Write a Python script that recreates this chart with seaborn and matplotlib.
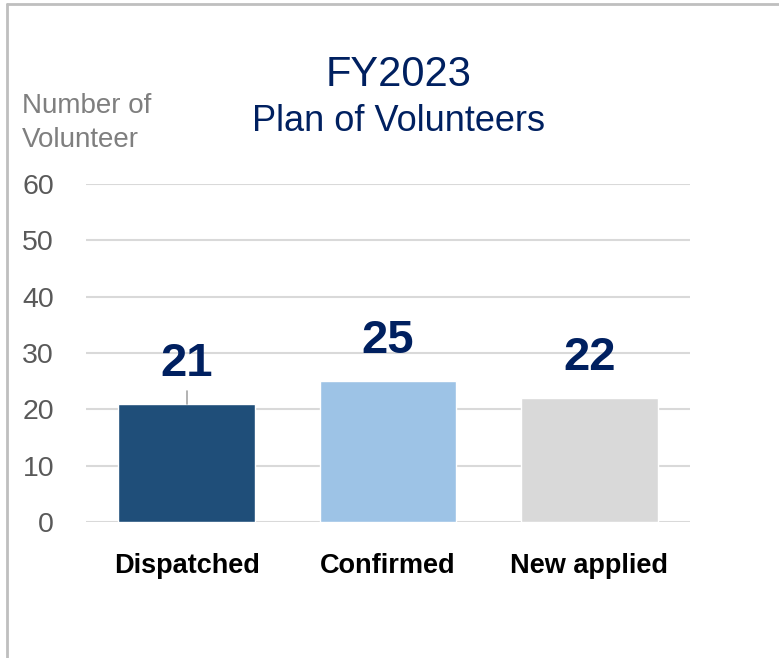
import matplotlib
matplotlib.use("Agg")
import matplotlib.pyplot as plt
import seaborn as sns
import pandas as pd
from matplotlib.lines import Line2D

categories = ["Dispatched", "Confirmed", "New applied"]
values = [21, 25, 22]
bar_colors = ["#1F4E79", "#9DC3E6", "#D9D9D9"]
yticks = [0, 10, 20, 30, 40, 50, 60]
title_line1 = "FY2023"
title_line2 = "Plan of Volunteers"
ylabel_text = "Number of\nVolunteer"

sns.set_theme(style="white")
plt.rcParams['font.family'] = ['Liberation Sans', 'DejaVu Sans']

df = pd.DataFrame({"category": categories, "value": values})

fig = plt.figure(figsize=(7.79, 6.58), dpi=100)
ax = fig.add_axes([0.1104, 0.2067, 0.7754, 0.5137])

sns.barplot(data=df, x="category", y="value", hue="category",
            palette=bar_colors, width=0.68, legend=False, ax=ax,
            saturation=1, zorder=3)

ax.set_ylim(0, 60)
ax.set_xlim(-0.5, 2.5)
ax.set_yticks(yticks)
ax.yaxis.grid(True, color="#D9D9D9", linewidth=1.5, zorder=0)
ax.set_axisbelow(True)
for s in ax.spines.values():
    s.set_visible(False)
ax.tick_params(axis="y", length=0, pad=23, labelsize=20.5, labelcolor="#595959")
ax.tick_params(axis="x", length=0, pad=22)
ax.set_xlabel("")
ax.set_ylabel("")
for lbl in ax.get_xticklabels():
    lbl.set_fontfamily(["Liberation Sans Narrow", "Liberation Sans", "DejaVu Sans"])
    lbl.set_fontweight("bold")
    lbl.set_fontsize(19.5)
    lbl.set_color("#000000")

for i, v in enumerate(values):
    ax.annotate(str(v), xy=(i, v), xytext=(0, 13), textcoords="offset points",
                ha="center", va="bottom", fontsize=34, fontweight="bold",
                color="#002060")

# leader line for first label
ax.plot([0, 0], [values[0], values[0] + 2.3], color="#A6A6A6", linewidth=1.2, zorder=4)

fig.text(0.511, 0.886, title_line1, ha="center", va="center", fontsize=30, color="#002060")
fig.text(0.511, 0.815, title_line2, ha="center", va="center", fontsize=26, color="#002060")
fig.text(0.028, 0.813, ylabel_text, ha="left", va="center", fontsize=20,
         color="#7F7F7F", linespacing=1.4)

# figure frame (top and left edges)
fig.add_artist(Line2D([0.009, 1.0], [0.994, 0.994], transform=fig.transFigure,
                      color="#BFBFBF", linewidth=2))
fig.add_artist(Line2D([0.009, 0.009], [0.0, 0.994], transform=fig.transFigure,
                      color="#BFBFBF", linewidth=2))

fig.savefig("out.png", dpi=100)
